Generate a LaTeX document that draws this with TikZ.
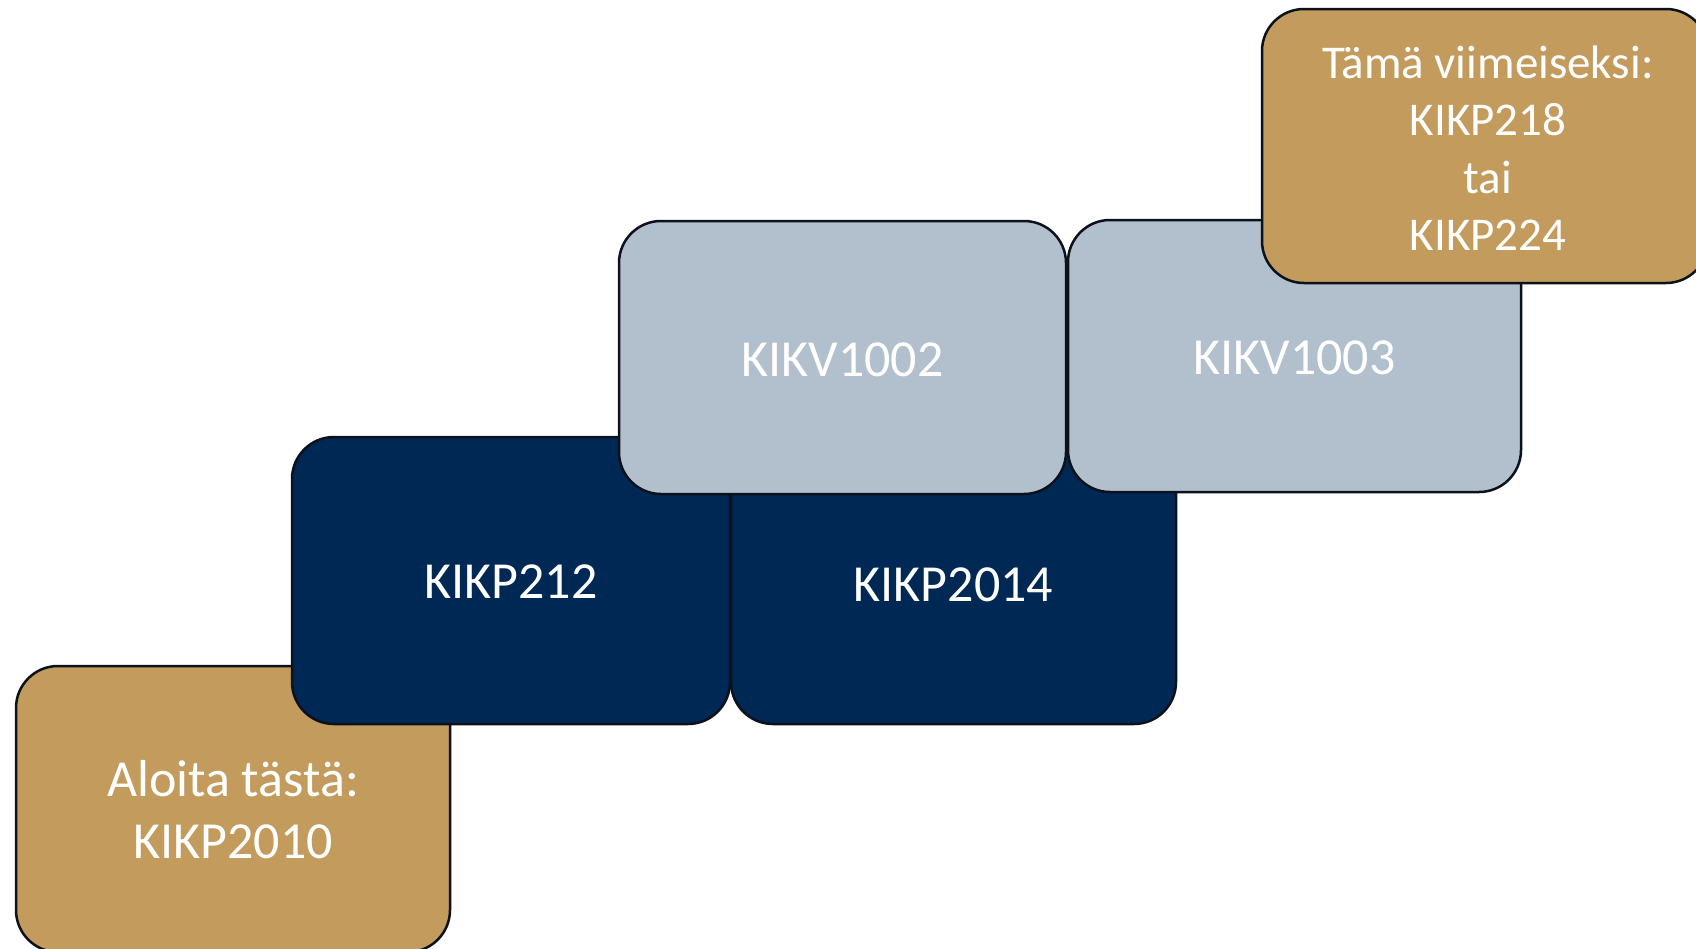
\documentclass[tikz,border=0pt]{standalone}
\usepackage{fontspec}
\setmainfont{Carlito}
\definecolor{gold}{RGB}{195,155,92}
\definecolor{navy}{RGB}{0,40,85}
\definecolor{slate}{RGB}{178,191,204}
\definecolor{edge}{RGB}{12,18,28}
\tikzset{
  card/.style={draw=edge, line width=2.5pt, rounded corners=42pt, inner sep=0pt,
    text=white, align=center, font=\fontsize{52}{62}\selectfont},
  goldcard/.style={card, fill=gold},
  navycard/.style={card, fill=navy},
  slatecard/.style={card, fill=slate},
}
\begin{document}
\begin{tikzpicture}[x=1pt,y=-1pt]
\useasboundingbox (0,0) rectangle (1696,948);
\fill[white] (0,0) rectangle (1696,948);
% start
\node[goldcard, minimum width=434pt, minimum height=286pt] (start) at (233,809) {};
\node[text=white, align=center, font=\fontsize{52}{62}\selectfont] (starttext) at (233,810) {Aloita tästä:\\KIKP2010};
% navy
\node[navycard, minimum width=438pt, minimum height=287pt] (k212) at (511,580.5) {};
\node[text=white, font=\fontsize{52}{62}\selectfont] (k212t) at (511,582) {KIKP212};
\node[navycard, minimum width=445pt, minimum height=287pt] (k2014) at (953.5,580.5) {};
\node[text=white, font=\fontsize{52}{62}\selectfont] (k2014t) at (953.5,585) {KIKP2014};
% slate
\node[slatecard, minimum width=447pt, minimum height=273pt] (v1002) at (842.5,357.5) {};
\node[text=white, font=\fontsize{52}{62}\selectfont] (v1002t) at (842.5,360) {KIKV1002};
\node[slatecard, minimum width=453pt, minimum height=272pt] (v1003) at (1294.5,356) {};
\node[text=white, font=\fontsize{52}{62}\selectfont] (v1003t) at (1294.5,358) {KIKV1003};
% last
\node[goldcard, minimum width=446pt, minimum height=274pt] (last) at (1485,146) {};
\node[text=white, align=center, font=\fontsize{47}{57.5}\selectfont] (lasttext) at (1488,148) {Tämä viimeiseksi:\\KIKP218\\tai\\KIKP224};
\end{tikzpicture}
\end{document}
